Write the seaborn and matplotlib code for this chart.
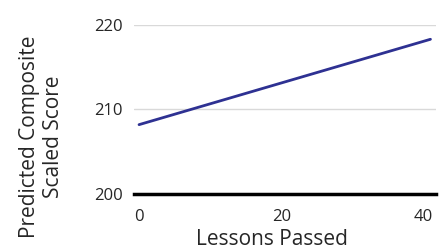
import matplotlib
matplotlib.use('Agg')
import matplotlib.pyplot as plt
import seaborn as sns
import pandas as pd

lessons = [0, 41]
score = [208.2, 218.3]
y_ticks = [200, 210, 220]
x_ticks = [0, 20, 40]

df = pd.DataFrame({'lessons': lessons, 'score': score})

sns.set_style('white')
plt.rcParams['font.family'] = ['Open Sans', 'DejaVu Sans']

fig = plt.figure(figsize=(4.41, 2.49), dpi=100)
ax = fig.add_axes([0.304, 0.221, 0.685, 0.679])

sns.lineplot(data=df, x='lessons', y='score', color='#2e3192', linewidth=2.0, ax=ax)

ax.set_xlim(-0.7, 41.8)
ax.set_ylim(200, 220)
ax.set_yticks(y_ticks)
ax.set_xticks(x_ticks)
ax.grid(axis='y', color='#d9d9d9', linewidth=1.0)
ax.set_axisbelow(True)
for s in ['top', 'right', 'left']:
    ax.spines[s].set_visible(False)
ax.spines['bottom'].set_color('black')
ax.spines['bottom'].set_linewidth(2.5)
ax.tick_params(axis='y', length=5, color='#d9d9d9', width=1.0, labelsize=12, pad=3)
ax.tick_params(axis='x', length=0, labelsize=12, pad=11)
ax.set_xlabel('Lessons Passed', fontsize=15)
ax.set_ylabel('Predicted Composite\nScaled Score', fontsize=15, linespacing=1.2)
ax.xaxis.set_label_coords(0.457, -0.205)
ax.yaxis.set_label_coords(-0.232, 0.34)

fig.savefig('out.png', dpi=100)
